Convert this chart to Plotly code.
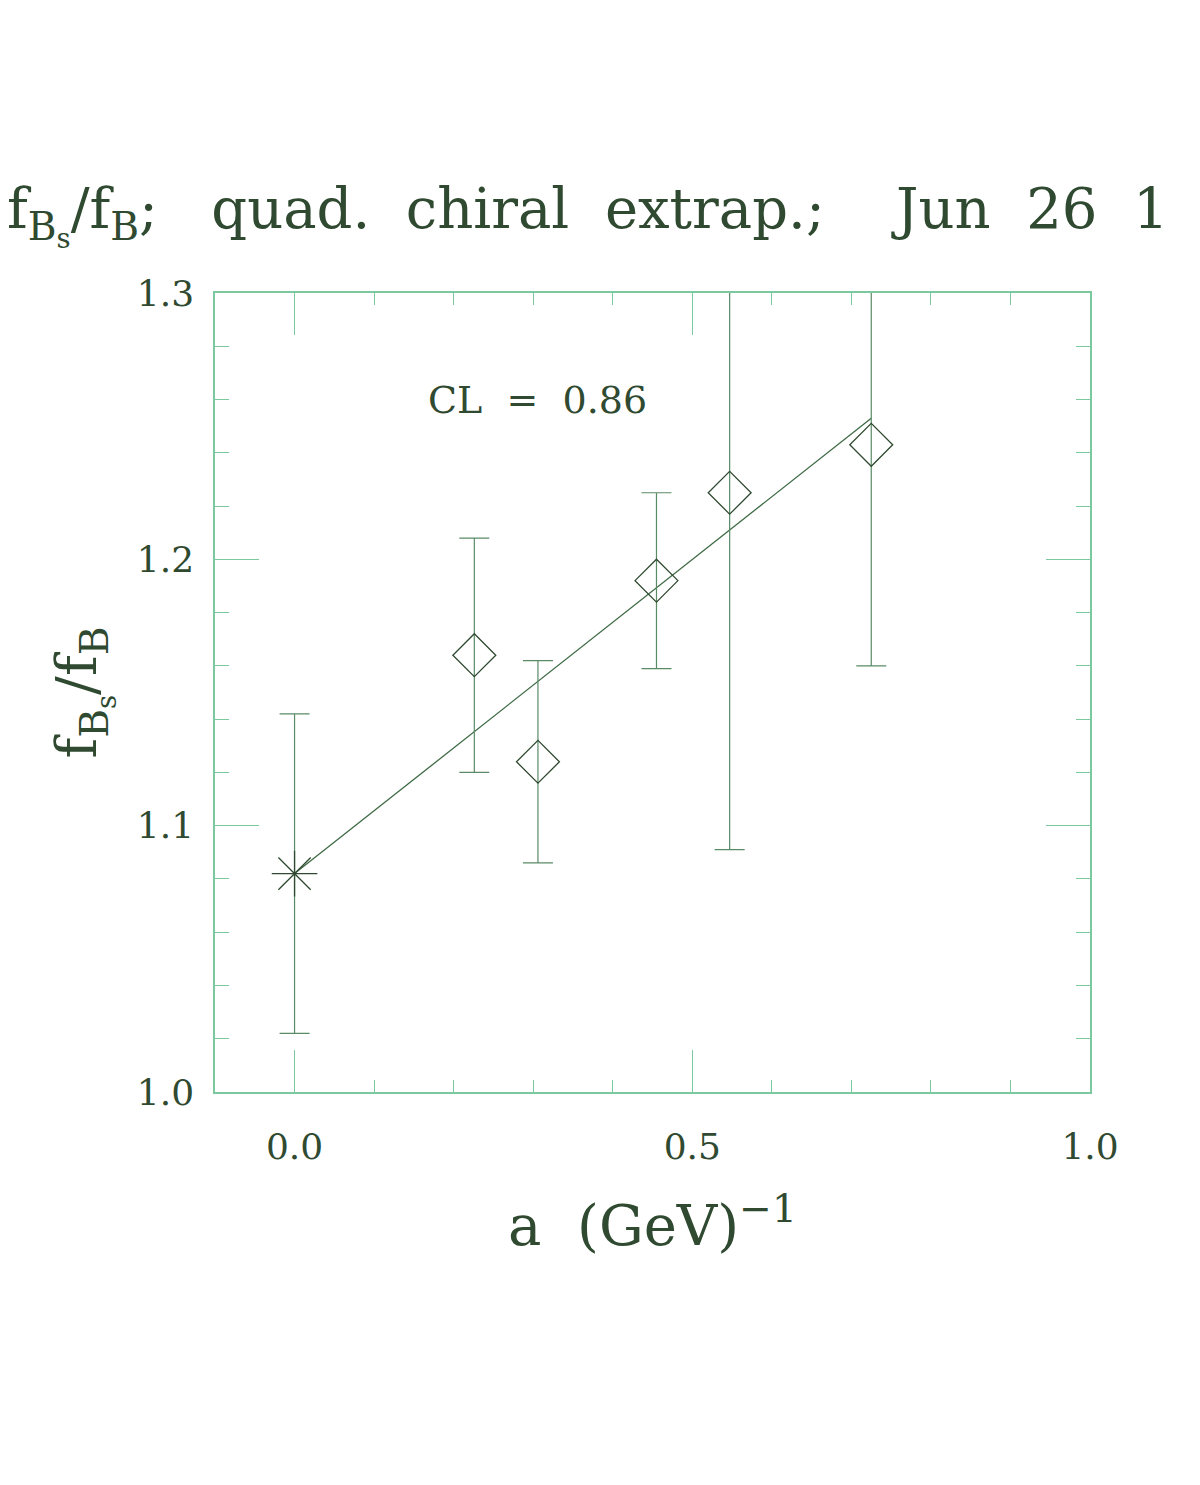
import plotly.graph_objects as go

# data
star_x = [0.0]
star_y = [1.082]
star_err = [0.060]

pts_x = [0.226, 0.306, 0.455, 0.547, 0.725]
pts_y = [1.164, 1.124, 1.192, 1.225, 1.243]
pts_err = [0.044, 0.038, 0.033, 0.134, 0.083]

fit_x = [0.0, 0.725]
fit_y = [1.082, 1.253]

x_ticks = [0.0, 0.5, 1.0]
x_ticklabels = ["0.0", "0.5", "1.0"]
y_ticks = [1.0, 1.1, 1.2, 1.3]
y_ticklabels = ["1.0", "1.1", "1.2", "1.3"]

ink = "#2f4a30"
frame = "#7cc9a0"
font_family = "DejaVu Serif"

fig = go.Figure()

fig.add_trace(go.Scatter(
    x=fit_x, y=fit_y, mode="lines",
    line=dict(color="#3f6a45", width=1.3), showlegend=False))

fig.add_trace(go.Scatter(
    x=pts_x, y=pts_y, mode="markers",
    marker=dict(symbol="diamond-open", size=33, color=ink, line=dict(width=1.3, color=ink)),
    error_y=dict(type="data", array=pts_err, visible=True, color="#5a8a66", thickness=1.2, width=15),
    showlegend=False))

fig.add_trace(go.Scatter(
    x=star_x, y=star_y, mode="markers",
    marker=dict(symbol="asterisk-open", size=38, color=ink, line=dict(width=1.3, color=ink)),
    error_y=dict(type="data", array=star_err, visible=True, color="#5a8a66", thickness=1.2, width=15),
    showlegend=False))

fig.add_annotation(x=0.305, y=1.26, xref="x", yref="y", text="CL  =  0.86",
                   showarrow=False, font=dict(family=font_family, size=38, color=ink))

fig.add_annotation(x=0.0, y=1.0, xref="paper", yref="paper", xanchor="left", yanchor="bottom",
                   text="f<sub>B<sub>s</sub></sub>/f<sub>B</sub>;   quad.  chiral  extrap.;    Jun  26  1",
                   showarrow=False, xshift=-210, yshift=37,
                   font=dict(family=font_family, size=56, color=ink))

fig.update_layout(
    width=1200, height=1485,
    margin=dict(l=207, r=118, t=285, b=401),
    paper_bgcolor="white", plot_bgcolor="white",
    font=dict(family=font_family, color=ink),
)

fig.update_xaxes(
    range=[-0.1, 1.0], showgrid=False, zeroline=False,
    showline=True, linecolor=frame, linewidth=1.5, mirror="ticks",
    ticks="inside", ticklen=42, tickwidth=1.2, tickcolor=frame,
    tickvals=x_ticks, ticktext=x_ticklabels,
    tickfont=dict(family=font_family, size=36, color=ink),
    ticklabelstandoff=22,
    minor=dict(dtick=0.1, tick0=0.0, ticks="inside", ticklen=12, tickcolor=frame, tickwidth=1.2),
    title=dict(text="a  (GeV)<sup>−1</sup>", font=dict(family=font_family, size=56, color=ink), standoff=40),
)

fig.update_yaxes(
    range=[1.0, 1.3], showgrid=False, zeroline=False,
    showline=True, linecolor=frame, linewidth=1.5, mirror="ticks",
    ticks="inside", ticklen=44, tickwidth=1.2, tickcolor=frame,
    tickvals=y_ticks, ticktext=y_ticklabels,
    tickfont=dict(family=font_family, size=36, color=ink),
    ticklabelstandoff=12,
    minor=dict(dtick=0.02, tick0=1.0, ticks="inside", ticklen=14, tickcolor=frame, tickwidth=1.2),
    title=dict(text="f<sub>B<sub>s</sub></sub>/f<sub>B</sub>", font=dict(family=font_family, size=56, color=ink), standoff=22),
)

fig.write_html("out.html")
